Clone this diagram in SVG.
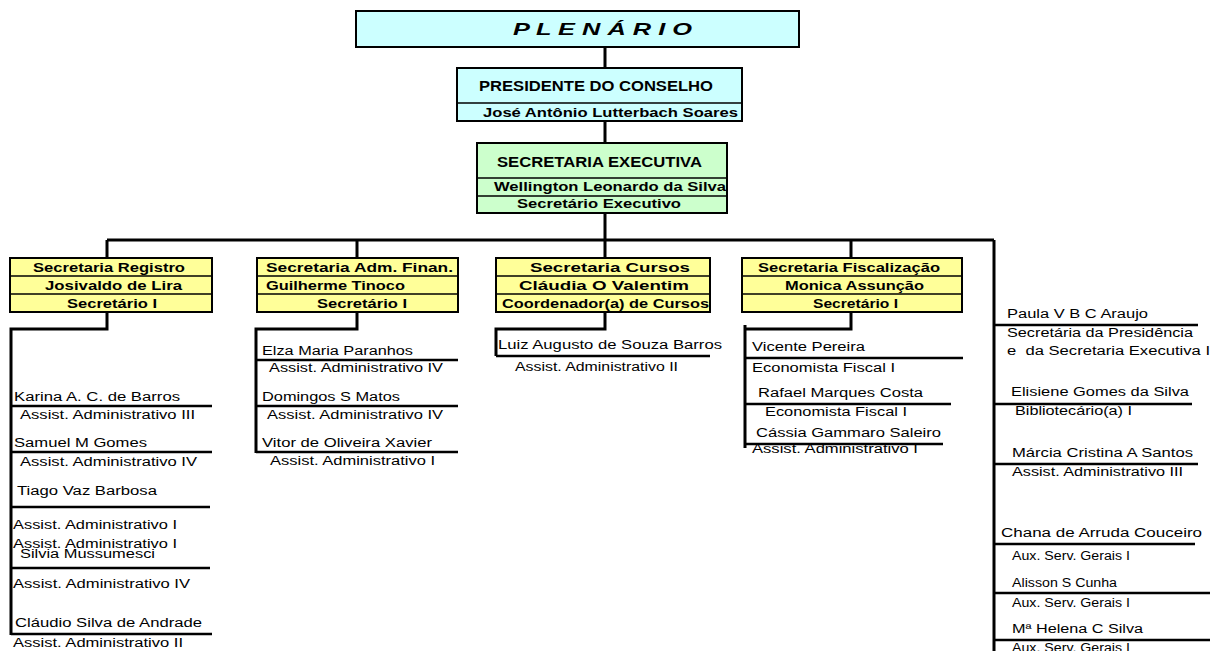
<svg xmlns="http://www.w3.org/2000/svg" width="1210" height="651" viewBox="0 0 1210 651">
<style>
.box{stroke:#000;stroke-width:2}
.cyan{fill:#ccffff}
.green{fill:#ccffcc}
.yel{fill:#ffff99}
.div{stroke:#000;stroke-width:1.5}
.con{stroke:#000;stroke-width:3;fill:none}
.ul{stroke:#000;stroke-width:2.5;fill:none}
text{font-family:"Liberation Sans",Arial,sans-serif;fill:#000}
.b{font-weight:bold;font-size:12.5px}
.bh{font-weight:bold;font-size:14px}
.p{font-size:12px}
</style>
<rect width="1210" height="651" fill="#fff"/>
<g id="connectors">
<path class="con" d="M605 47V68M605 121V143M605 213V258M107 240H994M107 240V258M357 240V258M851 240V258M994 240V651"/>
<path class="con" d="M107 312V329H11V635M357 312V329H256V453M605 312V329H496V356M851 312V329H745M745 325V448"/>
<path class="ul" d="M11 406H212M11 452H212M11 507H210M11 568H210M11 634H212"/>
<path class="ul" d="M256 360H458M256 406H458M256 452H458"/>
<path class="ul" d="M496 356H710"/>
<path class="ul" d="M745 358H963M745 404H951M745 444H943"/>
<path class="ul" d="M994 325H1198M994 404H1192M994 464H1198M994 544H1195M994 593H1210M994 640H1210"/>
</g>
<g id="plenario">
<rect class="box cyan" x="356" y="11" width="443" height="36"/>
<text x="513" y="35" font-size="17" font-weight="bold" font-style="italic" textLength="179" lengthAdjust="spacingAndGlyphs">P L E N Á R I O</text>
</g>
<g id="presidente">
<rect class="box cyan" x="457" y="68" width="285" height="53"/>
<line class="div" x1="457" y1="103" x2="742" y2="103"/>
<text class="bh" x="479" y="91" textLength="234" lengthAdjust="spacingAndGlyphs">PRESIDENTE DO CONSELHO</text>
<text class="b" x="483" y="117" textLength="255" lengthAdjust="spacingAndGlyphs">José Antônio Lutterbach Soares</text>
</g>
<g id="secretaria-executiva">
<rect class="box green" x="477" y="143" width="250" height="70"/>
<line class="div" x1="477" y1="178" x2="727" y2="178"/>
<line class="div" x1="477" y1="196" x2="727" y2="196"/>
<text class="bh" x="497" y="167" textLength="205" lengthAdjust="spacingAndGlyphs">SECRETARIA EXECUTIVA</text>
<text class="b" x="494" y="191" font-size="13" textLength="232" lengthAdjust="spacingAndGlyphs">Wellington Leonardo da Silva</text>
<text class="b" x="517" y="208" textLength="164" lengthAdjust="spacingAndGlyphs">Secretário Executivo</text>
</g>
<g id="sec-registro">
<rect class="box yel" x="10" y="258" width="202" height="54"/>
<line class="div" x1="10" y1="276" x2="212" y2="276"/>
<line class="div" x1="10" y1="294" x2="212" y2="294"/>
<text class="b" x="33" y="272" textLength="152" lengthAdjust="spacingAndGlyphs">Secretaria Registro</text>
<text class="b" x="45" y="290" textLength="137" lengthAdjust="spacingAndGlyphs">Josivaldo de Lira</text>
<text class="b" x="67" y="308" textLength="90" lengthAdjust="spacingAndGlyphs">Secretário I</text>
</g>
<g id="sec-adm">
<rect class="box yel" x="257" y="258" width="201" height="54"/>
<line class="div" x1="257" y1="276" x2="458" y2="276"/>
<line class="div" x1="257" y1="294" x2="458" y2="294"/>
<text class="b" x="266" y="272" textLength="187" lengthAdjust="spacingAndGlyphs">Secretaria Adm. Finan.</text>
<text class="b" x="266" y="290" textLength="139" lengthAdjust="spacingAndGlyphs">Guilherme Tinoco</text>
<text class="b" x="317" y="308" textLength="90" lengthAdjust="spacingAndGlyphs">Secretário I</text>
</g>
<g id="sec-cursos">
<rect class="box yel" x="496" y="258" width="214" height="54"/>
<line class="div" x1="496" y1="276" x2="710" y2="276"/>
<line class="div" x1="496" y1="294" x2="710" y2="294"/>
<text class="b" x="530" y="272" textLength="160" lengthAdjust="spacingAndGlyphs">Secretaria Cursos</text>
<text class="b" x="519" y="290" textLength="170" lengthAdjust="spacingAndGlyphs">Cláudia O Valentim</text>
<text class="b" x="502" y="308" textLength="207" lengthAdjust="spacingAndGlyphs">Coordenador(a) de Cursos</text>
</g>
<g id="sec-fiscalizacao">
<rect class="box yel" x="742" y="258" width="220" height="54"/>
<line class="div" x1="742" y1="276" x2="962" y2="276"/>
<line class="div" x1="742" y1="294" x2="962" y2="294"/>
<text class="b" x="758" y="272" textLength="182" lengthAdjust="spacingAndGlyphs">Secretaria Fiscalização</text>
<text class="b" x="785" y="290" textLength="139" lengthAdjust="spacingAndGlyphs">Monica Assunção</text>
<text class="b" x="813" y="308" textLength="85" lengthAdjust="spacingAndGlyphs">Secretário I</text>
</g>
<g id="staff-registro" class="p">
<text class="p" x="14" y="401" textLength="166" lengthAdjust="spacingAndGlyphs">Karina A. C. de Barros</text>
<text class="p" x="20" y="419" textLength="175" lengthAdjust="spacingAndGlyphs">Assist. Administrativo III</text>
<text class="p" x="14" y="447" textLength="133" lengthAdjust="spacingAndGlyphs">Samuel M Gomes</text>
<text class="p" x="20" y="466" textLength="177" lengthAdjust="spacingAndGlyphs">Assist. Administrativo IV</text>
<text class="p" x="17" y="495" textLength="140" lengthAdjust="spacingAndGlyphs">Tiago Vaz Barbosa</text>
<text class="p" x="13" y="529" textLength="164" lengthAdjust="spacingAndGlyphs">Assist. Administrativo I</text>
<text class="p" x="13" y="548" textLength="164" lengthAdjust="spacingAndGlyphs">Assist. Administrativo I</text>
<text class="p" x="20" y="558" textLength="135" lengthAdjust="spacingAndGlyphs">Silvia Mussumesci</text>
<text class="p" x="13" y="588" textLength="177" lengthAdjust="spacingAndGlyphs">Assist. Administrativo IV</text>
<text class="p" x="15" y="627" textLength="187" lengthAdjust="spacingAndGlyphs">Cláudio Silva de Andrade</text>
<text class="p" x="13" y="647" textLength="170" lengthAdjust="spacingAndGlyphs">Assist. Administrativo II</text>
</g>
<g id="staff-adm">
<text class="p" x="262" y="355" textLength="151" lengthAdjust="spacingAndGlyphs">Elza Maria Paranhos</text>
<text class="p" x="269" y="372" textLength="174" lengthAdjust="spacingAndGlyphs">Assist. Administrativo IV</text>
<text class="p" x="262" y="401" textLength="138" lengthAdjust="spacingAndGlyphs">Domingos S Matos</text>
<text class="p" x="267" y="419" textLength="176" lengthAdjust="spacingAndGlyphs">Assist. Administrativo IV</text>
<text class="p" x="262" y="447" textLength="170" lengthAdjust="spacingAndGlyphs">Vitor de Oliveira Xavier</text>
<text class="p" x="270" y="465" textLength="165" lengthAdjust="spacingAndGlyphs">Assist. Administrativo I</text>
</g>
<g id="staff-cursos">
<text class="p" x="498" y="349" textLength="224" lengthAdjust="spacingAndGlyphs">Luiz Augusto de Souza Barros</text>
<text class="p" x="515" y="371" textLength="163" lengthAdjust="spacingAndGlyphs">Assist. Administrativo II</text>
</g>
<g id="staff-fiscalizacao">
<text class="p" x="752" y="351" textLength="113" lengthAdjust="spacingAndGlyphs">Vicente Pereira</text>
<text class="p" x="752" y="372" textLength="143" lengthAdjust="spacingAndGlyphs">Economista Fiscal I</text>
<text class="p" x="758" y="397" textLength="165" lengthAdjust="spacingAndGlyphs">Rafael Marques Costa</text>
<text class="p" x="765" y="416" textLength="142" lengthAdjust="spacingAndGlyphs">Economista Fiscal I</text>
<text class="p" x="756" y="437" textLength="185" lengthAdjust="spacingAndGlyphs">Cássia Gammaro Saleiro</text>
<text class="p" x="752" y="453" textLength="166" lengthAdjust="spacingAndGlyphs">Assist. Administrativo I</text>
</g>
<g id="staff-presidencia">
<text class="p" x="1007" y="318" textLength="141" lengthAdjust="spacingAndGlyphs">Paula V B C Araujo</text>
<text class="p" x="1007" y="337" textLength="186" lengthAdjust="spacingAndGlyphs">Secretária da Presidência</text>
<text class="p" x="1007" y="355" xml:space="preserve" textLength="203" lengthAdjust="spacingAndGlyphs">e  da Secretaria Executiva I</text>
<text class="p" x="1011" y="396" textLength="178" lengthAdjust="spacingAndGlyphs">Elisiene Gomes da Silva</text>
<text class="p" x="1015" y="415" textLength="117" lengthAdjust="spacingAndGlyphs">Bibliotecário(a) I</text>
<text class="p" x="1012" y="457" textLength="181" lengthAdjust="spacingAndGlyphs">Márcia Cristina A Santos</text>
<text class="p" x="1012" y="476" textLength="171" lengthAdjust="spacingAndGlyphs">Assist. Administrativo III</text>
<text class="p" x="1001" y="537" textLength="201" lengthAdjust="spacingAndGlyphs">Chana de Arruda Couceiro</text>
<text class="p" x="1012" y="560" textLength="118" lengthAdjust="spacingAndGlyphs">Aux. Serv. Gerais I</text>
<text class="p" x="1012" y="587" textLength="105" lengthAdjust="spacingAndGlyphs">Alisson S Cunha</text>
<text class="p" x="1012" y="607" textLength="118" lengthAdjust="spacingAndGlyphs">Aux. Serv. Gerais I</text>
<text class="p" x="1012" y="633" textLength="131" lengthAdjust="spacingAndGlyphs">Mª Helena C Silva</text>
<text class="p" x="1012" y="652" textLength="118" lengthAdjust="spacingAndGlyphs">Aux. Serv. Gerais I</text>
</g>
</svg>
